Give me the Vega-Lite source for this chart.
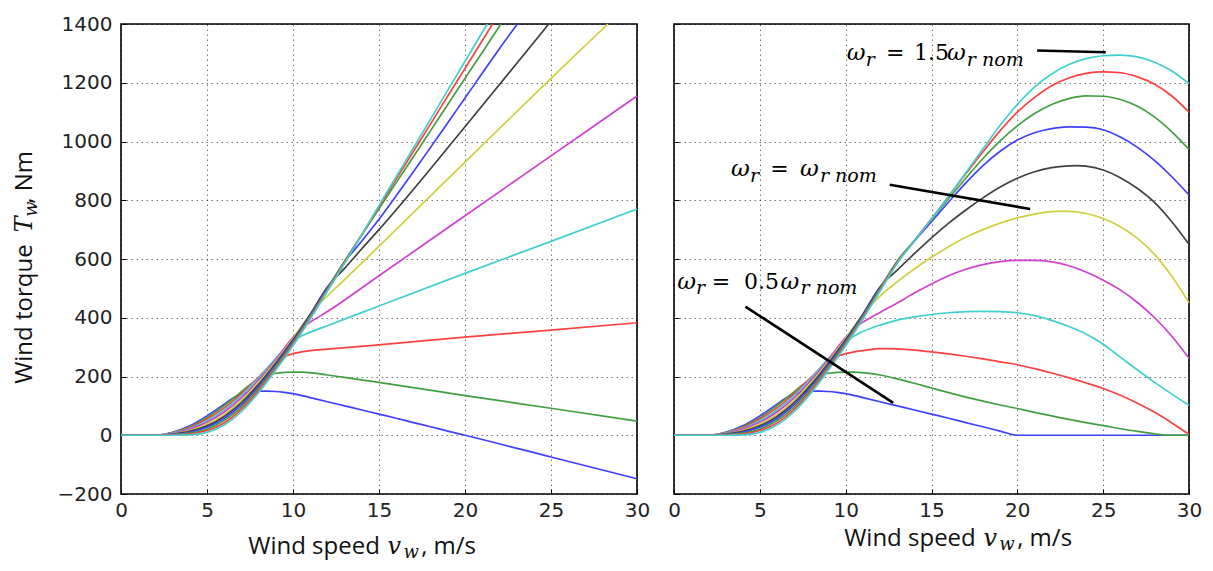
{
  "$schema": "https://vega.github.io/schema/vega-lite/v6.json",
  "background": "white",
  "padding": {"left": 11, "top": 13, "right": 5, "bottom": 5},
  "bounds": "flush",
  "spacing": 37,
  "config": {
    "view": {"stroke": "#000", "strokeWidth": 1.6},
    "axis": {
      "grid": true, "gridColor": "#000", "gridOpacity": 0.6, "gridDash": [1.5, 3.5], "gridWidth": 0.9,
      "domain": false, "ticks": true, "tickColor": "#000", "tickSize": -5, "tickWidth": 1,
      "labelFont": "DejaVu Sans", "labelFontSize": 20, "labelColor": "#222", "labelFlush": false, "labelOverlap": false
    },
    "axisX": {"labelPadding": 11},
    "axisY": {"labelPadding": 14}
  },
  "datasets": {
    "curves": [
      {"p":"B","s":"a05","v":0,"T":0},{"p":"B","s":"a05","v":2,"T":0},{"p":"B","s":"a05","v":3,"T":10},{"p":"B","s":"a05","v":4,"T":32},{"p":"B","s":"a05","v":5,"T":66},{"p":"B","s":"a05","v":6,"T":106},{"p":"B","s":"a05","v":6.5,"T":126},{"p":"B","s":"a05","v":7,"T":140},{"p":"B","s":"a05","v":7.5,"T":147},{"p":"B","s":"a05","v":8,"T":150},{"p":"B","s":"a05","v":8.5,"T":150},{"p":"B","s":"a05","v":9,"T":149},{"p":"B","s":"a05","v":9.5,"T":146},{"p":"B","s":"a05","v":10,"T":142},{"p":"B","s":"a05","v":11,"T":128},{"p":"B","s":"a05","v":12,"T":114},{"p":"B","s":"a05","v":13,"T":100},{"p":"B","s":"a05","v":14,"T":86},{"p":"B","s":"a05","v":15,"T":72},{"p":"B","s":"a05","v":16,"T":58},{"p":"B","s":"a05","v":17,"T":43},{"p":"B","s":"a05","v":18,"T":29},{"p":"B","s":"a05","v":19,"T":14},{"p":"B","s":"a05","v":20,"T":0},
      {"p":"L","s":"a05","v":25,"T":-74},{"p":"L","s":"a05","v":30,"T":-148},
      {"p":"R","s":"a05","v":25,"T":0},{"p":"R","s":"a05","v":30,"T":0},

      {"p":"B","s":"a06","v":0,"T":0},{"p":"B","s":"a06","v":2,"T":0},{"p":"B","s":"a06","v":3,"T":9},{"p":"B","s":"a06","v":4,"T":29},{"p":"B","s":"a06","v":5,"T":60},{"p":"B","s":"a06","v":6,"T":101},{"p":"B","s":"a06","v":7,"T":148},{"p":"B","s":"a06","v":7.5,"T":172},{"p":"B","s":"a06","v":8,"T":192},{"p":"B","s":"a06","v":8.5,"T":205},{"p":"B","s":"a06","v":9,"T":211},{"p":"B","s":"a06","v":9.5,"T":214},{"p":"B","s":"a06","v":10,"T":215},{"p":"B","s":"a06","v":10.5,"T":215},{"p":"B","s":"a06","v":11,"T":213},
      {"p":"L","s":"a06","v":12,"T":205},{"p":"L","s":"a06","v":13,"T":197},{"p":"L","s":"a06","v":14.5,"T":184},{"p":"L","s":"a06","v":17,"T":162},{"p":"L","s":"a06","v":20,"T":135},{"p":"L","s":"a06","v":25,"T":92},{"p":"L","s":"a06","v":30,"T":48},
      {"p":"R","s":"a06","v":12,"T":205},{"p":"R","s":"a06","v":13,"T":192},{"p":"R","s":"a06","v":14,"T":177},{"p":"R","s":"a06","v":15,"T":161},{"p":"R","s":"a06","v":16,"T":145},{"p":"R","s":"a06","v":17,"T":130},{"p":"R","s":"a06","v":18,"T":116},{"p":"R","s":"a06","v":19,"T":103},{"p":"R","s":"a06","v":20,"T":91},{"p":"R","s":"a06","v":21,"T":78},{"p":"R","s":"a06","v":22,"T":66},{"p":"R","s":"a06","v":23,"T":54},{"p":"R","s":"a06","v":24,"T":43},{"p":"R","s":"a06","v":25,"T":33},{"p":"R","s":"a06","v":26,"T":22},{"p":"R","s":"a06","v":27,"T":13},{"p":"R","s":"a06","v":28,"T":5},{"p":"R","s":"a06","v":28.8,"T":0},{"p":"R","s":"a06","v":30,"T":0},

      {"p":"B","s":"a07","v":0,"T":0},{"p":"B","s":"a07","v":2,"T":0},{"p":"B","s":"a07","v":3,"T":8},{"p":"B","s":"a07","v":4,"T":26},{"p":"B","s":"a07","v":5,"T":55},{"p":"B","s":"a07","v":6,"T":93},{"p":"B","s":"a07","v":7,"T":142},{"p":"B","s":"a07","v":8,"T":198},{"p":"B","s":"a07","v":8.5,"T":228},{"p":"B","s":"a07","v":9,"T":252},{"p":"B","s":"a07","v":9.5,"T":268},{"p":"B","s":"a07","v":10,"T":278},{"p":"B","s":"a07","v":10.5,"T":284},{"p":"B","s":"a07","v":11,"T":288},
      {"p":"L","s":"a07","v":12,"T":293},{"p":"L","s":"a07","v":14.5,"T":305},{"p":"L","s":"a07","v":20,"T":334},{"p":"L","s":"a07","v":25,"T":358},{"p":"L","s":"a07","v":30,"T":383},
      {"p":"R","s":"a07","v":12,"T":295},{"p":"R","s":"a07","v":13,"T":294},{"p":"R","s":"a07","v":14,"T":290},{"p":"R","s":"a07","v":15,"T":284},{"p":"R","s":"a07","v":16,"T":277},{"p":"R","s":"a07","v":17,"T":269},{"p":"R","s":"a07","v":18,"T":260},{"p":"R","s":"a07","v":19,"T":250},{"p":"R","s":"a07","v":20,"T":240},{"p":"R","s":"a07","v":21,"T":227},{"p":"R","s":"a07","v":22,"T":212},{"p":"R","s":"a07","v":23,"T":196},{"p":"R","s":"a07","v":24,"T":178},{"p":"R","s":"a07","v":25,"T":159},{"p":"R","s":"a07","v":26,"T":136},{"p":"R","s":"a07","v":27,"T":109},{"p":"R","s":"a07","v":28,"T":78},{"p":"R","s":"a07","v":29,"T":42},{"p":"R","s":"a07","v":30,"T":3},

      {"p":"B","s":"a08","v":0,"T":0},{"p":"B","s":"a08","v":2,"T":0},{"p":"B","s":"a08","v":3,"T":7},{"p":"B","s":"a08","v":4,"T":23},{"p":"B","s":"a08","v":5,"T":49},{"p":"B","s":"a08","v":6,"T":86},{"p":"B","s":"a08","v":7,"T":135},{"p":"B","s":"a08","v":8,"T":195},{"p":"B","s":"a08","v":9,"T":262},{"p":"B","s":"a08","v":9.5,"T":293},{"p":"B","s":"a08","v":10,"T":320},{"p":"B","s":"a08","v":10.5,"T":338},
      {"p":"L","s":"a08","v":11,"T":351},{"p":"L","s":"a08","v":12,"T":373},{"p":"L","s":"a08","v":15,"T":440},{"p":"L","s":"a08","v":20,"T":551},{"p":"L","s":"a08","v":25,"T":660},{"p":"L","s":"a08","v":30,"T":770},
      {"p":"R","s":"a08","v":11,"T":353},{"p":"R","s":"a08","v":12,"T":375},{"p":"R","s":"a08","v":13,"T":392},{"p":"R","s":"a08","v":14,"T":403},{"p":"R","s":"a08","v":15,"T":411},{"p":"R","s":"a08","v":16,"T":417},{"p":"R","s":"a08","v":17,"T":421},{"p":"R","s":"a08","v":18,"T":422},{"p":"R","s":"a08","v":19,"T":421},{"p":"R","s":"a08","v":20,"T":417},{"p":"R","s":"a08","v":21,"T":407},{"p":"R","s":"a08","v":22,"T":391},{"p":"R","s":"a08","v":23,"T":370},{"p":"R","s":"a08","v":24,"T":345},{"p":"R","s":"a08","v":25,"T":310},{"p":"R","s":"a08","v":26,"T":266},{"p":"R","s":"a08","v":27,"T":222},{"p":"R","s":"a08","v":28,"T":180},{"p":"R","s":"a08","v":29,"T":140},{"p":"R","s":"a08","v":30,"T":102},

      {"p":"B","s":"a09","v":0,"T":0},{"p":"B","s":"a09","v":2,"T":0},{"p":"B","s":"a09","v":3,"T":6},{"p":"B","s":"a09","v":4,"T":20},{"p":"B","s":"a09","v":5,"T":44},{"p":"B","s":"a09","v":6,"T":79},{"p":"B","s":"a09","v":7,"T":127},{"p":"B","s":"a09","v":8,"T":188},{"p":"B","s":"a09","v":9,"T":258},{"p":"B","s":"a09","v":10,"T":333},{"p":"B","s":"a09","v":10.5,"T":362},{"p":"B","s":"a09","v":11,"T":385},
      {"p":"L","s":"a09","v":11.5,"T":403},{"p":"L","s":"a09","v":12,"T":421},{"p":"L","s":"a09","v":15,"T":543},{"p":"L","s":"a09","v":20,"T":747},{"p":"L","s":"a09","v":25,"T":951},{"p":"L","s":"a09","v":30,"T":1155},
      {"p":"R","s":"a09","v":11.5,"T":402},{"p":"R","s":"a09","v":12,"T":418},{"p":"R","s":"a09","v":13,"T":450},{"p":"R","s":"a09","v":14,"T":484},{"p":"R","s":"a09","v":15,"T":515},{"p":"R","s":"a09","v":16,"T":543},{"p":"R","s":"a09","v":17,"T":565},{"p":"R","s":"a09","v":18,"T":581},{"p":"R","s":"a09","v":19,"T":591},{"p":"R","s":"a09","v":20,"T":595},{"p":"R","s":"a09","v":21,"T":595},{"p":"R","s":"a09","v":22,"T":590},{"p":"R","s":"a09","v":23,"T":577},{"p":"R","s":"a09","v":24,"T":556},{"p":"R","s":"a09","v":25,"T":528},{"p":"R","s":"a09","v":26,"T":495},{"p":"R","s":"a09","v":27,"T":452},{"p":"R","s":"a09","v":28,"T":400},{"p":"R","s":"a09","v":29,"T":337},{"p":"R","s":"a09","v":30,"T":262},

      {"p":"B","s":"a10","v":0,"T":0},{"p":"B","s":"a10","v":2,"T":0},{"p":"B","s":"a10","v":3,"T":5},{"p":"B","s":"a10","v":4,"T":16},{"p":"B","s":"a10","v":5,"T":38},{"p":"B","s":"a10","v":6,"T":71},{"p":"B","s":"a10","v":7,"T":119},{"p":"B","s":"a10","v":8,"T":180},{"p":"B","s":"a10","v":9,"T":252},{"p":"B","s":"a10","v":10,"T":330},{"p":"B","s":"a10","v":11,"T":410},{"p":"B","s":"a10","v":11.5,"T":445},{"p":"B","s":"a10","v":12,"T":474},
      {"p":"L","s":"a10","v":13,"T":530},{"p":"L","s":"a10","v":14.5,"T":615},{"p":"L","s":"a10","v":20,"T":930},{"p":"L","s":"a10","v":25,"T":1215},{"p":"L","s":"a10","v":28.3,"T":1400},
      {"p":"R","s":"a10","v":13,"T":522},{"p":"R","s":"a10","v":14,"T":566},{"p":"R","s":"a10","v":15,"T":606},{"p":"R","s":"a10","v":16,"T":642},{"p":"R","s":"a10","v":17,"T":674},{"p":"R","s":"a10","v":18,"T":700},{"p":"R","s":"a10","v":19,"T":722},{"p":"R","s":"a10","v":20,"T":740},{"p":"R","s":"a10","v":21,"T":753},{"p":"R","s":"a10","v":22,"T":761},{"p":"R","s":"a10","v":22.5,"T":763},{"p":"R","s":"a10","v":23,"T":762},{"p":"R","s":"a10","v":24,"T":755},{"p":"R","s":"a10","v":25,"T":738},{"p":"R","s":"a10","v":26,"T":710},{"p":"R","s":"a10","v":27,"T":670},{"p":"R","s":"a10","v":28,"T":615},{"p":"R","s":"a10","v":29,"T":541},{"p":"R","s":"a10","v":30,"T":451},

      {"p":"B","s":"a11","v":0,"T":0},{"p":"B","s":"a11","v":2,"T":0},{"p":"B","s":"a11","v":3,"T":4},{"p":"B","s":"a11","v":4,"T":13},{"p":"B","s":"a11","v":5,"T":32},{"p":"B","s":"a11","v":6,"T":64},{"p":"B","s":"a11","v":7,"T":111},{"p":"B","s":"a11","v":8,"T":173},{"p":"B","s":"a11","v":9,"T":246},{"p":"B","s":"a11","v":10,"T":325},{"p":"B","s":"a11","v":11,"T":412},{"p":"B","s":"a11","v":12,"T":505},
      {"p":"L","s":"a11","v":13,"T":568},{"p":"L","s":"a11","v":14,"T":635},{"p":"L","s":"a11","v":15,"T":700},{"p":"L","s":"a11","v":20,"T":1050},{"p":"L","s":"a11","v":24.87,"T":1400},
      {"p":"R","s":"a11","v":13,"T":562},{"p":"R","s":"a11","v":14,"T":618},{"p":"R","s":"a11","v":15,"T":672},{"p":"R","s":"a11","v":16,"T":722},{"p":"R","s":"a11","v":17,"T":767},{"p":"R","s":"a11","v":18,"T":808},{"p":"R","s":"a11","v":19,"T":845},{"p":"R","s":"a11","v":20,"T":875},{"p":"R","s":"a11","v":21,"T":897},{"p":"R","s":"a11","v":22,"T":911},{"p":"R","s":"a11","v":23,"T":917},{"p":"R","s":"a11","v":23.5,"T":918},{"p":"R","s":"a11","v":24,"T":916},{"p":"R","s":"a11","v":25,"T":903},{"p":"R","s":"a11","v":26,"T":877},{"p":"R","s":"a11","v":27,"T":840},{"p":"R","s":"a11","v":28,"T":792},{"p":"R","s":"a11","v":29,"T":727},{"p":"R","s":"a11","v":30,"T":650},

      {"p":"B","s":"a12","v":0,"T":0},{"p":"B","s":"a12","v":2,"T":0},{"p":"B","s":"a12","v":3,"T":3},{"p":"B","s":"a12","v":4,"T":10},{"p":"B","s":"a12","v":5,"T":27},{"p":"B","s":"a12","v":6,"T":57},{"p":"B","s":"a12","v":7,"T":103},{"p":"B","s":"a12","v":8,"T":166},{"p":"B","s":"a12","v":9,"T":240},{"p":"B","s":"a12","v":10,"T":320},{"p":"B","s":"a12","v":11,"T":408},{"p":"B","s":"a12","v":12,"T":501},{"p":"B","s":"a12","v":13,"T":590},{"p":"B","s":"a12","v":14,"T":661},
      {"p":"L","s":"a12","v":15,"T":735},{"p":"L","s":"a12","v":16,"T":815},{"p":"L","s":"a12","v":17,"T":897},{"p":"L","s":"a12","v":18,"T":980},{"p":"L","s":"a12","v":19,"T":1064},{"p":"L","s":"a12","v":20,"T":1148},{"p":"L","s":"a12","v":21,"T":1232},{"p":"L","s":"a12","v":22,"T":1316},{"p":"L","s":"a12","v":23.05,"T":1400},
      {"p":"R","s":"a12","v":15,"T":727},{"p":"R","s":"a12","v":16,"T":794},{"p":"R","s":"a12","v":17,"T":859},{"p":"R","s":"a12","v":18,"T":918},{"p":"R","s":"a12","v":19,"T":967},{"p":"R","s":"a12","v":20,"T":1005},{"p":"R","s":"a12","v":21,"T":1030},{"p":"R","s":"a12","v":22,"T":1044},{"p":"R","s":"a12","v":23,"T":1050},{"p":"R","s":"a12","v":24,"T":1049},{"p":"R","s":"a12","v":25,"T":1040},{"p":"R","s":"a12","v":26,"T":1015},{"p":"R","s":"a12","v":27,"T":980},{"p":"R","s":"a12","v":28,"T":935},{"p":"R","s":"a12","v":29,"T":880},{"p":"R","s":"a12","v":30,"T":818},

      {"p":"B","s":"a13","v":0,"T":0},{"p":"B","s":"a13","v":2,"T":0},{"p":"B","s":"a13","v":3,"T":2},{"p":"B","s":"a13","v":4,"T":7},{"p":"B","s":"a13","v":5,"T":21},{"p":"B","s":"a13","v":6,"T":50},{"p":"B","s":"a13","v":7,"T":96},{"p":"B","s":"a13","v":8,"T":159},{"p":"B","s":"a13","v":9,"T":234},{"p":"B","s":"a13","v":10,"T":315},{"p":"B","s":"a13","v":11,"T":404},{"p":"B","s":"a13","v":12,"T":498},{"p":"B","s":"a13","v":13,"T":593},
      {"p":"L","s":"a13","v":14,"T":682},{"p":"L","s":"a13","v":15,"T":771},{"p":"L","s":"a13","v":16,"T":860},{"p":"L","s":"a13","v":17,"T":948},{"p":"L","s":"a13","v":18,"T":1037},{"p":"L","s":"a13","v":19,"T":1126},{"p":"L","s":"a13","v":20,"T":1215},{"p":"L","s":"a13","v":21,"T":1303},{"p":"L","s":"a13","v":22.09,"T":1400},
      {"p":"R","s":"a13","v":14,"T":663},{"p":"R","s":"a13","v":15,"T":735},{"p":"R","s":"a13","v":16,"T":806},{"p":"R","s":"a13","v":17,"T":875},{"p":"R","s":"a13","v":18,"T":942},{"p":"R","s":"a13","v":19,"T":1002},{"p":"R","s":"a13","v":20,"T":1053},{"p":"R","s":"a13","v":21,"T":1095},{"p":"R","s":"a13","v":22,"T":1126},{"p":"R","s":"a13","v":23,"T":1146},{"p":"R","s":"a13","v":24,"T":1155},{"p":"R","s":"a13","v":25,"T":1154},{"p":"R","s":"a13","v":26,"T":1143},{"p":"R","s":"a13","v":27,"T":1120},{"p":"R","s":"a13","v":28,"T":1083},{"p":"R","s":"a13","v":29,"T":1033},{"p":"R","s":"a13","v":30,"T":973},

      {"p":"B","s":"a14","v":0,"T":0},{"p":"B","s":"a14","v":2,"T":0},{"p":"B","s":"a14","v":3,"T":1},{"p":"B","s":"a14","v":4,"T":4},{"p":"B","s":"a14","v":5,"T":16},{"p":"B","s":"a14","v":6,"T":42},{"p":"B","s":"a14","v":7,"T":88},{"p":"B","s":"a14","v":8,"T":152},{"p":"B","s":"a14","v":9,"T":228},{"p":"B","s":"a14","v":10,"T":310},{"p":"B","s":"a14","v":11,"T":399},{"p":"B","s":"a14","v":12,"T":494},{"p":"B","s":"a14","v":13,"T":589},
      {"p":"L","s":"a14","v":14,"T":683},{"p":"L","s":"a14","v":15,"T":778},{"p":"L","s":"a14","v":16,"T":872},{"p":"L","s":"a14","v":17,"T":966},{"p":"L","s":"a14","v":18,"T":1060},{"p":"L","s":"a14","v":19,"T":1155},{"p":"L","s":"a14","v":20,"T":1249},{"p":"L","s":"a14","v":21,"T":1343},{"p":"L","s":"a14","v":21.6,"T":1400},
      {"p":"R","s":"a14","v":14,"T":662},{"p":"R","s":"a14","v":15,"T":737},{"p":"R","s":"a14","v":16,"T":813},{"p":"R","s":"a14","v":17,"T":890},{"p":"R","s":"a14","v":18,"T":965},{"p":"R","s":"a14","v":19,"T":1037},{"p":"R","s":"a14","v":20,"T":1100},{"p":"R","s":"a14","v":21,"T":1150},{"p":"R","s":"a14","v":22,"T":1190},{"p":"R","s":"a14","v":23,"T":1216},{"p":"R","s":"a14","v":24,"T":1232},{"p":"R","s":"a14","v":25,"T":1237},{"p":"R","s":"a14","v":26,"T":1234},{"p":"R","s":"a14","v":27,"T":1220},{"p":"R","s":"a14","v":28,"T":1195},{"p":"R","s":"a14","v":29,"T":1155},{"p":"R","s":"a14","v":30,"T":1100},

      {"p":"B","s":"a15","v":0,"T":0},{"p":"B","s":"a15","v":3,"T":0},{"p":"B","s":"a15","v":4,"T":1},{"p":"B","s":"a15","v":5,"T":10},{"p":"B","s":"a15","v":6,"T":35},{"p":"B","s":"a15","v":7,"T":80},{"p":"B","s":"a15","v":8,"T":145},{"p":"B","s":"a15","v":9,"T":222},{"p":"B","s":"a15","v":10,"T":305},{"p":"B","s":"a15","v":11,"T":395},{"p":"B","s":"a15","v":12,"T":490},{"p":"B","s":"a15","v":13,"T":585},
      {"p":"L","s":"a15","v":14,"T":683},{"p":"L","s":"a15","v":15,"T":782},{"p":"L","s":"a15","v":16,"T":880},{"p":"L","s":"a15","v":17,"T":978},{"p":"L","s":"a15","v":18,"T":1076},{"p":"L","s":"a15","v":19,"T":1175},{"p":"L","s":"a15","v":20,"T":1273},{"p":"L","s":"a15","v":21,"T":1371},{"p":"L","s":"a15","v":21.3,"T":1400},
      {"p":"R","s":"a15","v":14,"T":661},{"p":"R","s":"a15","v":15,"T":736},{"p":"R","s":"a15","v":16,"T":813},{"p":"R","s":"a15","v":17,"T":894},{"p":"R","s":"a15","v":18,"T":975},{"p":"R","s":"a15","v":19,"T":1055},{"p":"R","s":"a15","v":20,"T":1126},{"p":"R","s":"a15","v":21,"T":1185},{"p":"R","s":"a15","v":22,"T":1230},{"p":"R","s":"a15","v":23,"T":1262},{"p":"R","s":"a15","v":24,"T":1282},{"p":"R","s":"a15","v":25,"T":1292},{"p":"R","s":"a15","v":26,"T":1294},{"p":"R","s":"a15","v":27,"T":1288},{"p":"R","s":"a15","v":28,"T":1270},{"p":"R","s":"a15","v":29,"T":1240},{"p":"R","s":"a15","v":30,"T":1197}
    ],
    "annLines": [
      {"v":21.15,"T":1310,"v2":25.15,"T2":1304},
      {"v":12.57,"T":853,"v2":20.75,"T2":770},
      {"v":4.16,"T":438,"v2":12.77,"T2":110}
    ],
    "annItalic": [
      {"v":10.07,"T":1276,"t":"ω"},{"v":15.9,"T":1276,"t":"ω"},
      {"v":3.32,"T":881,"t":"ω"},{"v":7.34,"T":881,"t":"ω"},
      {"v":0.19,"T":499,"t":"ω"},{"v":6.2,"T":499,"t":"ω"}
    ],
    "annUpright": [
      {"v":12.35,"T":1276,"t":"="},{"v":13.98,"T":1276,"t":"1.5"},
      {"v":5.6,"T":881,"t":"="},
      {"v":2.2,"T":499,"t":"="},{"v":4.08,"T":499,"t":"0.5"}
    ],
    "annSub": [
      {"v":11.17,"T":1258,"t":"r"},{"v":17.06,"T":1258,"t":"r nom"},
      {"v":4.43,"T":862,"t":"r"},{"v":8.5,"T":862,"t":"r nom"},
      {"v":1.28,"T":480,"t":"r"},{"v":7.37,"T":480,"t":"r nom"}
    ],
    "xTitleLa": [{"v":15.05,"T":-404,"t":"Wind speed"}],
    "xTitleLb": [{"v":17.45,"T":-404,"t":", m/s"}],
    "xTitleLIt": [{"v":15.5,"T":-404,"t":"v"}],
    "xTitleLSub": [{"v":16.42,"T":-418,"t":"w"}],
    "xTitleRa": [{"v":17.58,"T":-378,"t":"Wind speed"}],
    "xTitleRb": [{"v":19.99,"T":-378,"t":", m/s"}],
    "xTitleRIt": [{"v":18.03,"T":-378,"t":"v"}],
    "xTitleRSub": [{"v":18.95,"T":-392,"t":"w"}],
    "yTitle": [{"v":-5.19,"T":175,"t":"Wind torque"},{"v":-5.19,"T":788,"t":", Nm"}],
    "yTitleIt": [{"v":-5.19,"T":690,"t":"T"}],
    "yTitleSub": [{"v":-4.9,"T":744,"t":"w"}]
  },
  "hconcat": [
    {
      "width": 516, "height": 470,
      "layer": [
        {
          "data": {"name": "curves"},
          "transform": [{"filter": "datum.p != 'R'"}],
          "mark": {"type": "line", "interpolate": "monotone", "strokeWidth": 1.7},
          "encoding": {
            "x": {"field": "v", "type": "quantitative", "title": null, "scale": {"domain": [0, 30], "nice": false, "zero": false},
                  "axis": {"values": [0, 5, 10, 15, 20, 25, 30], "format": "d"}},
            "y": {"field": "T", "type": "quantitative", "title": null, "scale": {"domain": [-200, 1400], "nice": false, "zero": false},
                  "axis": {"values": [-200, 0, 200, 400, 600, 800, 1000, 1200, 1400], "format": "d"}},
            "color": {"field": "s", "type": "nominal", "legend": null,
                      "scale": {"domain": ["a05","a06","a07","a08","a09","a10","a11","a12","a13","a14","a15"],
                                "range": ["#4040ff","#40a040","#ff4040","#40cfcf","#cf40cf","#cfcf40","#404040","#4040ff","#40a040","#ff4040","#40cfcf"]}}
          }
        },
        {
          "data": {"name": "xTitleLa"},
          "mark": {"type": "text", "align": "right", "baseline": "alphabetic", "font": "Open Sans", "fontSize": 24, "color": "#111"},
          "encoding": {
            "x": {"field": "v", "type": "quantitative", "title": null, "scale": {"domain": [0, 30], "nice": false, "zero": false}},
            "y": {"field": "T", "type": "quantitative", "title": null, "scale": {"domain": [-200, 1400], "nice": false, "zero": false}},
            "text": {"field": "t"}
          }
        },
        {
          "data": {"name": "xTitleLb"},
          "mark": {"type": "text", "align": "left", "baseline": "alphabetic", "font": "Open Sans", "fontSize": 24, "color": "#111"},
          "encoding": {
            "x": {"field": "v", "type": "quantitative", "title": null, "scale": {"domain": [0, 30], "nice": false, "zero": false}},
            "y": {"field": "T", "type": "quantitative", "title": null, "scale": {"domain": [-200, 1400], "nice": false, "zero": false}},
            "text": {"field": "t"}
          }
        },
        {
          "data": {"name": "xTitleLIt"},
          "mark": {"type": "text", "align": "left", "baseline": "alphabetic", "font": "DejaVu Serif", "fontStyle": "italic", "fontSize": 24, "color": "#111"},
          "encoding": {
            "x": {"field": "v", "type": "quantitative", "title": null, "scale": {"domain": [0, 30], "nice": false, "zero": false}},
            "y": {"field": "T", "type": "quantitative", "title": null, "scale": {"domain": [-200, 1400], "nice": false, "zero": false}},
            "text": {"field": "t"}
          }
        },
        {
          "data": {"name": "xTitleLSub"},
          "mark": {"type": "text", "align": "left", "baseline": "alphabetic", "font": "DejaVu Serif", "fontStyle": "italic", "fontSize": 18, "color": "#111"},
          "encoding": {
            "x": {"field": "v", "type": "quantitative", "title": null, "scale": {"domain": [0, 30], "nice": false, "zero": false}},
            "y": {"field": "T", "type": "quantitative", "title": null, "scale": {"domain": [-200, 1400], "nice": false, "zero": false}},
            "text": {"field": "t"}
          }
        },
        {
          "data": {"name": "yTitle"},
          "mark": {"type": "text", "align": "left", "baseline": "alphabetic", "angle": 270, "font": "Open Sans", "fontSize": 24, "color": "#111"},
          "encoding": {
            "x": {"field": "v", "type": "quantitative", "title": null, "scale": {"domain": [0, 30], "nice": false, "zero": false}},
            "y": {"field": "T", "type": "quantitative", "title": null, "scale": {"domain": [-200, 1400], "nice": false, "zero": false}},
            "text": {"field": "t"}
          }
        },
        {
          "data": {"name": "yTitleIt"},
          "mark": {"type": "text", "align": "left", "baseline": "alphabetic", "angle": 270, "font": "DejaVu Serif", "fontStyle": "italic", "fontSize": 24, "color": "#111"},
          "encoding": {
            "x": {"field": "v", "type": "quantitative", "title": null, "scale": {"domain": [0, 30], "nice": false, "zero": false}},
            "y": {"field": "T", "type": "quantitative", "title": null, "scale": {"domain": [-200, 1400], "nice": false, "zero": false}},
            "text": {"field": "t"}
          }
        },
        {
          "data": {"name": "yTitleSub"},
          "mark": {"type": "text", "align": "left", "baseline": "alphabetic", "angle": 270, "font": "DejaVu Serif", "fontStyle": "italic", "fontSize": 18, "color": "#111"},
          "encoding": {
            "x": {"field": "v", "type": "quantitative", "title": null, "scale": {"domain": [0, 30], "nice": false, "zero": false}},
            "y": {"field": "T", "type": "quantitative", "title": null, "scale": {"domain": [-200, 1400], "nice": false, "zero": false}},
            "text": {"field": "t"}
          }
        }
      ]
    },
    {
      "width": 515, "height": 470,
      "layer": [
        {
          "data": {"name": "curves"},
          "transform": [{"filter": "datum.p != 'L'"}],
          "mark": {"type": "line", "interpolate": "monotone", "strokeWidth": 1.7},
          "encoding": {
            "x": {"field": "v", "type": "quantitative", "title": null, "scale": {"domain": [0, 30], "nice": false, "zero": false},
                  "axis": {"values": [0, 5, 10, 15, 20, 25, 30], "format": "d"}},
            "y": {"field": "T", "type": "quantitative", "title": null, "scale": {"domain": [-200, 1400], "nice": false, "zero": false},
                  "axis": {"values": [-200, 0, 200, 400, 600, 800, 1000, 1200, 1400], "labels": false}},
            "color": {"field": "s", "type": "nominal", "legend": null,
                      "scale": {"domain": ["a05","a06","a07","a08","a09","a10","a11","a12","a13","a14","a15"],
                                "range": ["#4040ff","#40a040","#ff4040","#40cfcf","#cf40cf","#cfcf40","#404040","#4040ff","#40a040","#ff4040","#40cfcf"]}}
          }
        },
        {
          "data": {"name": "annLines"},
          "mark": {"type": "rule", "color": "#000", "strokeWidth": 2.6},
          "encoding": {
            "x": {"field": "v", "type": "quantitative", "title": null, "scale": {"domain": [0, 30], "nice": false, "zero": false}},
            "y": {"field": "T", "type": "quantitative", "title": null, "scale": {"domain": [-200, 1400], "nice": false, "zero": false}},
            "x2": {"field": "v2"},
            "y2": {"field": "T2"}
          }
        },
        {
          "data": {"name": "annItalic"},
          "mark": {"type": "text", "align": "left", "baseline": "alphabetic", "font": "DejaVu Serif", "fontStyle": "italic", "fontSize": 23, "color": "#000"},
          "encoding": {
            "x": {"field": "v", "type": "quantitative", "title": null, "scale": {"domain": [0, 30], "nice": false, "zero": false}},
            "y": {"field": "T", "type": "quantitative", "title": null, "scale": {"domain": [-200, 1400], "nice": false, "zero": false}},
            "text": {"field": "t"}
          }
        },
        {
          "data": {"name": "annUpright"},
          "mark": {"type": "text", "align": "left", "baseline": "alphabetic", "font": "DejaVu Serif", "fontSize": 22, "color": "#000"},
          "encoding": {
            "x": {"field": "v", "type": "quantitative", "title": null, "scale": {"domain": [0, 30], "nice": false, "zero": false}},
            "y": {"field": "T", "type": "quantitative", "title": null, "scale": {"domain": [-200, 1400], "nice": false, "zero": false}},
            "text": {"field": "t"}
          }
        },
        {
          "data": {"name": "annSub"},
          "mark": {"type": "text", "align": "left", "baseline": "alphabetic", "font": "DejaVu Serif", "fontStyle": "italic", "fontSize": 19, "color": "#000"},
          "encoding": {
            "x": {"field": "v", "type": "quantitative", "title": null, "scale": {"domain": [0, 30], "nice": false, "zero": false}},
            "y": {"field": "T", "type": "quantitative", "title": null, "scale": {"domain": [-200, 1400], "nice": false, "zero": false}},
            "text": {"field": "t"}
          }
        },
        {
          "data": {"name": "xTitleRa"},
          "mark": {"type": "text", "align": "right", "baseline": "alphabetic", "font": "Open Sans", "fontSize": 24, "color": "#111"},
          "encoding": {
            "x": {"field": "v", "type": "quantitative", "title": null, "scale": {"domain": [0, 30], "nice": false, "zero": false}},
            "y": {"field": "T", "type": "quantitative", "title": null, "scale": {"domain": [-200, 1400], "nice": false, "zero": false}},
            "text": {"field": "t"}
          }
        },
        {
          "data": {"name": "xTitleRb"},
          "mark": {"type": "text", "align": "left", "baseline": "alphabetic", "font": "Open Sans", "fontSize": 24, "color": "#111"},
          "encoding": {
            "x": {"field": "v", "type": "quantitative", "title": null, "scale": {"domain": [0, 30], "nice": false, "zero": false}},
            "y": {"field": "T", "type": "quantitative", "title": null, "scale": {"domain": [-200, 1400], "nice": false, "zero": false}},
            "text": {"field": "t"}
          }
        },
        {
          "data": {"name": "xTitleRIt"},
          "mark": {"type": "text", "align": "left", "baseline": "alphabetic", "font": "DejaVu Serif", "fontStyle": "italic", "fontSize": 24, "color": "#111"},
          "encoding": {
            "x": {"field": "v", "type": "quantitative", "title": null, "scale": {"domain": [0, 30], "nice": false, "zero": false}},
            "y": {"field": "T", "type": "quantitative", "title": null, "scale": {"domain": [-200, 1400], "nice": false, "zero": false}},
            "text": {"field": "t"}
          }
        },
        {
          "data": {"name": "xTitleRSub"},
          "mark": {"type": "text", "align": "left", "baseline": "alphabetic", "font": "DejaVu Serif", "fontStyle": "italic", "fontSize": 18, "color": "#111"},
          "encoding": {
            "x": {"field": "v", "type": "quantitative", "title": null, "scale": {"domain": [0, 30], "nice": false, "zero": false}},
            "y": {"field": "T", "type": "quantitative", "title": null, "scale": {"domain": [-200, 1400], "nice": false, "zero": false}},
            "text": {"field": "t"}
          }
        }
      ]
    }
  ]
}
